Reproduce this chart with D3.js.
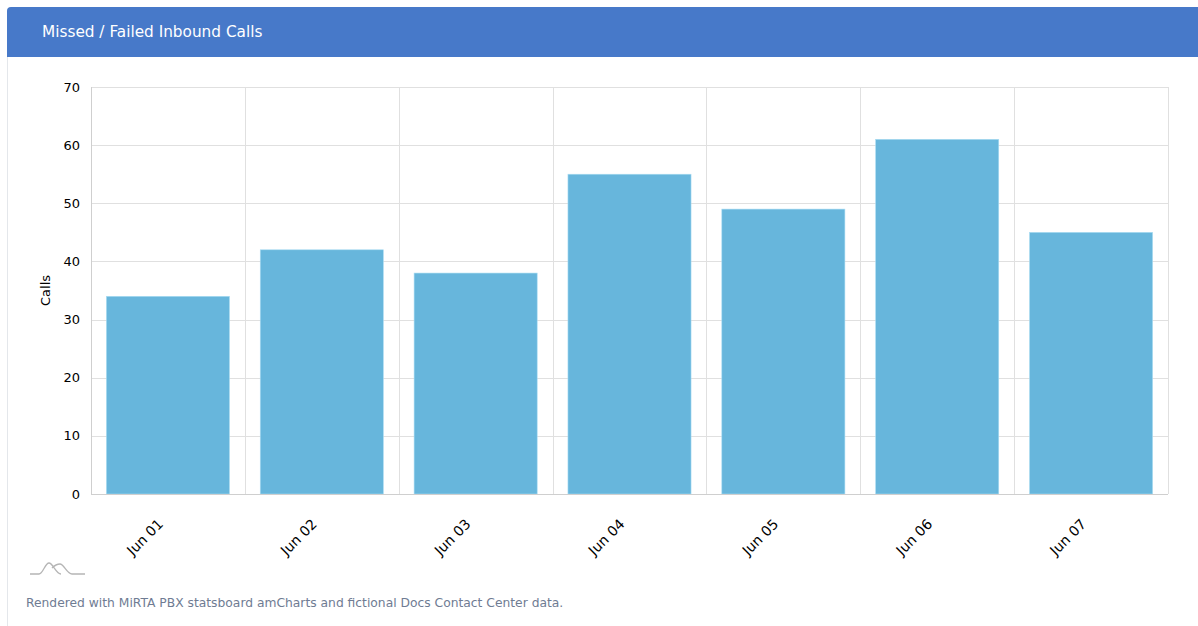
<!DOCTYPE html>
<html>
<head>
<meta charset="utf-8">
<script src="https://cdn.jsdelivr.net/npm/d3@7"></script>
<style>
  html, body { margin: 0; padding: 0; background: #ffffff; }
  body { width: 1198px; height: 626px; overflow: hidden; font-family: "DejaVu Sans", sans-serif; }
  svg { display: block; }
</style>
</head>
<body>
<svg id="chart" width="1198" height="626"></svg>
<script>
const title = "Missed / Failed Inbound Calls";
const categories = ["Jun 01", "Jun 02", "Jun 03", "Jun 04", "Jun 05", "Jun 06", "Jun 07"];
const calls = [34, 42, 38, 55, 49, 61, 45];
const yTicks = [0, 10, 20, 30, 40, 50, 60, 70];
const yTitle = "Calls";
const footer = "Rendered with MiRTA PBX statsboard amCharts and fictional Docs Contact Center data.";

const svg = d3.select("#chart");

// card
svg.append("rect").attr("x", 7.5).attr("y", 7.5).attr("width", 1200).attr("height", 640)
  .attr("rx", 4).attr("fill", "#fff").attr("stroke", "#e4e7eb");
svg.append("path")
  .attr("d", "M7,57 V11 Q7,7 11,7 H1198 V57 Z")
  .attr("fill", "#4779c9");
svg.append("text").attr("x", 42).attr("y", 37).attr("fill", "#fff")
  .attr("font-size", 15.3).text(title);

const m = { left: 91, right: 1168, top: 87, bottom: 494 };
const x = d3.scaleBand().domain(categories).range([m.left, m.right]).paddingInner(0).paddingOuter(0);
const y = d3.scaleLinear().domain([0, 70]).range([m.bottom, m.top]);

const g = svg.append("g");
// horizontal grid
g.selectAll(".hg").data(yTicks).join("line")
  .attr("x1", m.left).attr("x2", m.right)
  .attr("y1", d => Math.round(y(d)) + 0.5).attr("y2", d => Math.round(y(d)) + 0.5)
  .attr("stroke", "#e0e0e0").attr("stroke-width", 1);
// vertical grid at band boundaries
const bounds = categories.map(c => x(c)).concat([m.right]);
g.selectAll(".vg").data(bounds).join("line")
  .attr("x1", d => Math.round(d) + 0.5).attr("x2", d => Math.round(d) + 0.5)
  .attr("y1", m.top).attr("y2", m.bottom)
  .attr("stroke", "#e0e0e0").attr("stroke-width", 1);

// bars
const bw = x.bandwidth() * 0.8;
g.selectAll(".bar").data(calls).join("rect")
  .attr("x", (d, i) => x(categories[i]) + (x.bandwidth() - bw) / 2)
  .attr("y", d => y(d))
  .attr("width", bw)
  .attr("height", d => y(0) - y(d))
  .attr("fill", "#67b6dc")
  .attr("stroke", "#a9dcf2").attr("stroke-width", 0.6);

// axis lines
g.append("line").attr("x1", m.left).attr("x2", m.right).attr("y1", m.bottom + 0.5).attr("y2", m.bottom + 0.5)
  .attr("stroke", "#cfcfcf");
g.append("line").attr("x1", m.left + 0.5).attr("x2", m.left + 0.5).attr("y1", m.top).attr("y2", m.bottom)
  .attr("stroke", "#cfcfcf");

// y tick labels
g.selectAll(".yl").data(yTicks).join("text")
  .attr("x", 80).attr("y", d => y(d)).attr("dy", "0.35em")
  .attr("text-anchor", "end").attr("font-size", 13).attr("fill", "#000")
  .text(d => d);

// y title
svg.append("text").attr("transform", `translate(50,${(m.top + m.bottom) / 2}) rotate(-90)`)
  .attr("text-anchor", "middle").attr("font-size", 13).attr("fill", "#000").text(yTitle);

// x labels
g.selectAll(".xl").data(categories).join("text")
  .attr("transform", d => `translate(${x(d) + x.bandwidth() / 2 - 4},${m.bottom + 31}) rotate(-45)`)
  .attr("text-anchor", "end").attr("font-size", 14).attr("fill", "#000")
  .text(d => d);

// amCharts-like logo
svg.append("path")
  .attr("d", "M30,574 H39 C43,574 45,563 49,563 C53,563 56,574 61,574 M52,568 C55,565 57,564 60,564 C64,564 67,574 72,574 H85")
  .attr("fill", "none").attr("stroke", "#b5b5b5").attr("stroke-width", 1.3);

// footer
svg.append("text").attr("x", 26).attr("y", 607).attr("font-size", 12.3).attr("fill", "#6f7c93").text(footer);
</script>
</body>
</html>
